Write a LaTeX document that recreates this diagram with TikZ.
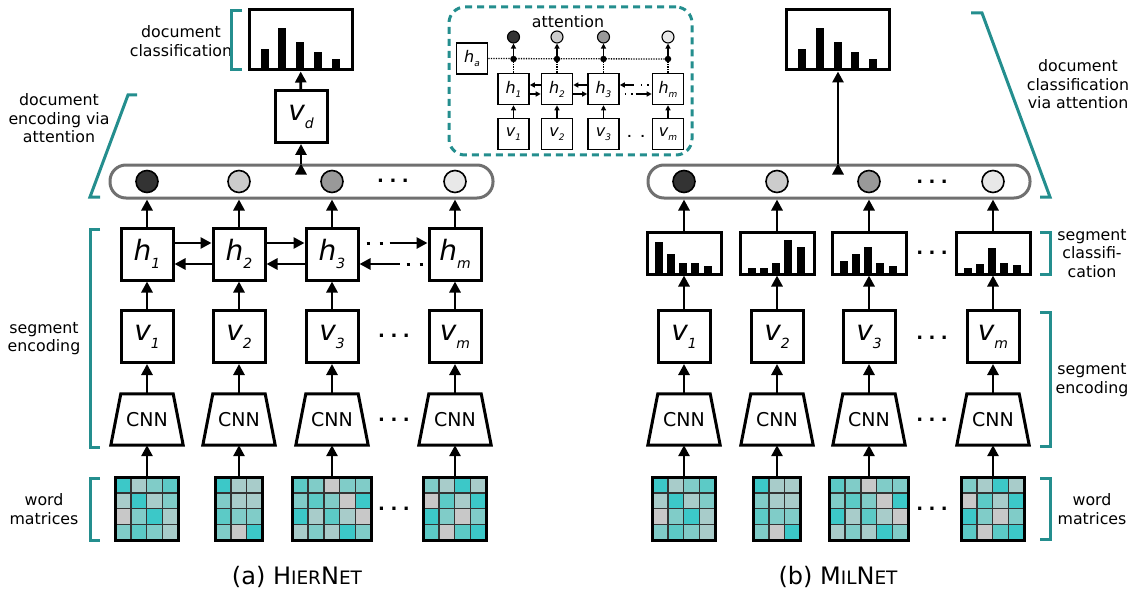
\documentclass[tikz,border=0pt]{standalone}
\usepackage{fontspec}
\setmainfont{DejaVu Sans}
\usetikzlibrary{arrows.meta,calc}

\definecolor{brteal}{RGB}{36,142,142}
\definecolor{mat1}{RGB}{60,200,200}
\definecolor{mat2}{RGB}{92,202,198}
\definecolor{mat3}{RGB}{128,204,200}
\definecolor{mat4}{RGB}{168,204,202}
\definecolor{mat5}{RGB}{200,200,200}
\definecolor{att1}{RGB}{51,51,51}
\definecolor{att2}{RGB}{204,204,204}
\definecolor{att3}{RGB}{153,153,153}
\definecolor{att4}{RGB}{232,232,232}

\newcommand{\bigsym}[2]{{\fontsize{28}{28}\selectfont\itshape #1}\raisebox{-8pt}{\fontsize{14}{14}\selectfont\itshape #2}}
\newcommand{\smallsym}[2]{{\fontsize{16}{16}\selectfont\itshape #1}\raisebox{-4pt}{\fontsize{9}{9}\selectfont\itshape #2}}
\newcommand{\ellip}{{\fontsize{18}{18}\selectfont\bfseries .\hspace{5.5pt}.\hspace{5.5pt}.}}

% word matrix: name, position, columns, cell colours row by row
\newcommand{\wordmat}[4]{%
  \node[inner sep=0pt, minimum width=#3*15.8pt, minimum height=63.2pt] (#1) at #2 {};
  \foreach \mc [count=\mk from 0] in {#4} {
    \pgfmathtruncatemacro{\mcol}{mod(\mk,#3)}
    \pgfmathtruncatemacro{\mrow}{\mk/#3}
    \filldraw[fill=mat\mc, draw=black!80, line width=1.3pt] ($(#1.north west)+(\mcol*15.8,\mrow*15.8)$) rectangle ++(15.8,15.8);
  }
  \draw[line width=3pt] (#1.north west) rectangle (#1.south east);
}
% bar chart: name, position, width, height, first bar, pitch, bar heights
\newcommand{\barchart}[7]{%
  \node[hist node, minimum width=#3pt, minimum height=#4pt] (#1) at #2 {};
  \foreach \bh [count=\bi from 0] in {#7}
    \fill ($(#1.south west)+(#5+\bi*#6,0)$) rectangle ++(8,-\bh);
}
% CNN block: name, position
\newcommand{\cnnblock}[2]{%
  \node[cnn node] (#1) at #2 {CNN};
  \draw[line width=3pt, line join=miter] (#1.south west) -- (#1.south east)
    -- ([xshift=-10pt]#1.north east) -- ([xshift=10pt]#1.north west) -- cycle;
}

\begin{document}
\begin{tikzpicture}[x=1pt, y=-1pt,
  box node/.style={draw, line width=3pt, minimum size=52pt, inner sep=0pt},
  small box/.style={draw, line width=1.6pt, minimum size=31pt, inner sep=0pt},
  cnn node/.style={minimum width=72pt, minimum height=51pt, inner sep=0pt, font=\fontsize{19}{22}\selectfont},
  hist node/.style={draw, line width=3pt, inner sep=0pt},
  att node/.style={circle, draw, line width=1.6pt, minimum size=22pt, inner sep=0pt},
  bar node/.style={draw=black!56, line width=3pt, rounded corners=16pt, minimum height=33pt, inner sep=0pt, fill=white},
  label node/.style={align=center, font=\fontsize{15.8}{18.5}\selectfont},
  bracket/.style={draw=brteal, line width=3pt},
  arr/.style={-{Triangle[length=11pt,width=11pt]}, line width=2.8pt},
  thin arr/.style={-{Triangle[length=5pt,width=5pt]}, line width=1.3pt},
  dot line/.style={line width=3pt, dash pattern=on 3pt off 10pt},
  small dots/.style={line width=1.4pt, dash pattern=on 1.5pt off 5pt},
  fine dots/.style={line width=1.3pt, dash pattern=on 1.2pt off 1.3pt}]
\useasboundingbox (0,0) rectangle (1135,591);

%%% (a) HierNet
\wordmat{mA1}{(147,509)}{4}{1,4,3,2,4,1,4,3,5,3,1,4,3,2,3,4}
\wordmat{mA2}{(239,509)}{3}{1,4,4,3,4,4,2,3,3,3,5,1}
\wordmat{mA3}{(332,509)}{5}{2,3,5,3,3,3,2,3,5,1,1,4,2,4,5,4,3,4,1,3}
\wordmat{mA4}{(455,509)}{4}{3,4,1,4,5,2,4,1,1,3,5,3,2,5,2,1}
\node (eA1) at (394,509) {\ellip};

\cnnblock{cA1}{(147,419.5)}
\cnnblock{cA2}{(239,419.5)}
\cnnblock{cA3}{(332,419.5)}
\cnnblock{cA4}{(455,419.5)}
\node (eA2) at (394,420) {\ellip};

\node[box node] (vA1) at (147,336.5) {\bigsym{v}{1}};
\node[box node] (vA2) at (239,336.5) {\bigsym{v}{2}};
\node[box node] (vA3) at (332,336.5) {\bigsym{v}{3}};
\node[box node] (vA4) at (455,336.5) {\bigsym{v}{m}};
\node (eA3) at (394,336) {\ellip};

\node[box node] (hA1) at (147,254) {\bigsym{h}{1}};
\node[box node] (hA2) at (239,254) {\bigsym{h}{2}};
\node[box node] (hA3) at (332,254) {\bigsym{h}{3}};
\node[box node] (hA4) at (455,254) {\bigsym{h}{m}};

\node[bar node, minimum width=383pt] (barA) at (301.5,181.5) {};
\node[att node, fill=att1] (aA1) at (147,181.5) {};
\node[att node, fill=att2] (aA2) at (239,181.5) {};
\node[att node, fill=att3] (aA3) at (332,181.5) {};
\node[att node, fill=att4] (aA4) at (455,181.5) {};
\node (eA4) at (393,181) {\ellip};

\node[box node] (vdA) at (301,116.5) {\bigsym{v}{d}};
\barchart{dA}{(300.5,40)}{103}{60}{13}{17.8}{22,43,29,19,12}

\begin{scope}
\foreach \i in {1,2,3,4} {
  \draw[arr] (mA\i) edge (cA\i);
  \draw[arr] (cA\i) edge (vA\i);
  \draw[arr] (vA\i) edge (hA\i);
  \draw[arr] (hA\i) edge (aA\i |- barA.south);
}
\draw[arr] ([yshift=11pt]hA1.east) -- ([yshift=11pt]hA2.west);
\draw[arr] ([yshift=-10pt]hA2.west) -- ([yshift=-10pt]hA1.east);
\draw[arr] ([yshift=11pt]hA2.east) -- ([yshift=11pt]hA3.west);
\draw[arr] ([yshift=-10pt]hA3.west) -- ([yshift=-10pt]hA2.east);
\draw[dot line] ([shift={(7pt,11pt)}]hA3.east) -- ([shift={(26pt,11pt)}]hA3.east);
\draw[arr] ([shift={(-38pt,11pt)}]hA4.west) -- ([yshift=11pt]hA4.west);
\draw[arr] ([shift={(40pt,-10pt)}]hA3.east) -- ([yshift=-10pt]hA3.east);
\draw[dot line] ([shift={(47pt,-10pt)}]hA3.east) -- ([shift={(-5pt,-10pt)}]hA4.west);
\draw[arr] (vdA |- barA.north) edge (vdA);
\draw[arr] (vdA) edge (dA);
\end{scope}

%%% (b) MilNet
\wordmat{mB1}{(684,509)}{4}{1,4,3,2,4,1,4,3,5,3,1,4,3,2,3,4}
\wordmat{mB2}{(777,509)}{3}{1,4,4,3,4,4,2,3,3,3,5,1}
\wordmat{mB3}{(869,509)}{5}{2,3,5,3,3,3,2,3,5,1,1,4,2,4,5,4,3,4,1,3}
\wordmat{mB4}{(993,509)}{4}{3,4,1,4,5,2,4,1,1,3,5,3,2,5,2,1}
\node (eB1) at (932,509) {\ellip};

\cnnblock{cB1}{(684,419.5)}
\cnnblock{cB2}{(777,419.5)}
\cnnblock{cB3}{(869,419.5)}
\cnnblock{cB4}{(993,419.5)}
\node (eB2) at (932,420) {\ellip};

\node[box node] (vB1) at (684,336.5) {\bigsym{v}{1}};
\node[box node] (vB2) at (777,336.5) {\bigsym{v}{2}};
\node[box node] (vB3) at (869,336.5) {\bigsym{v}{3}};
\node[box node] (vB4) at (993,336.5) {\bigsym{v}{m}};
\node (eB3) at (932,338) {\ellip};

\barchart{sB1}{(684,253)}{74}{42}{9}{12.3}{34,22,13,13,10}
\barchart{sB2}{(777,253)}{74}{42}{9}{12.3}{8,8,13,36,29}
\barchart{sB3}{(869,253)}{74}{42}{9}{12.3}{15,22,29,13,10}
\barchart{sB4}{(993,253)}{74}{42}{9}{12.3}{8,12,28,13,11}
\node (eB4) at (932,253) {\ellip};

\node[bar node, minimum width=382pt] (barB) at (839,181.5) {};
\node[att node, fill=att1] (aB1) at (684,181.5) {};
\node[att node, fill=att2] (aB2) at (777,181.5) {};
\node[att node, fill=att3] (aB3) at (869,181.5) {};
\node[att node, fill=att4] (aB4) at (993,181.5) {};
\node (eB5) at (932,182) {\ellip};

\barchart{dB}{(838,40)}{103}{60}{13}{17.8}{22,43,29,19,12}

\begin{scope}
\foreach \i in {1,2,3,4} {
  \draw[arr] (mB\i) edge (cB\i);
  \draw[arr] (cB\i) edge (vB\i);
  \draw[arr] (vB\i) edge (sB\i);
  \draw[arr] (sB\i) edge (aB\i |- barB.south);
}
\draw[arr] (dB |- barB.north) edge (dB);
\end{scope}

%%% attention inset
\node[draw=brteal, line width=3pt, dash pattern=on 7pt off 5pt, rounded corners=16pt, minimum width=243pt, minimum height=148pt] (inset) at (570.5,81) {};
\node[label node] (attlbl) at (568,22) {attention};
\node[small box] (ha) at (472,58.5) {\smallsym{h}{a}};
\node[small box] (hI1) at (513.5,89) {\smallsym{h}{1}};
\node[small box] (hI2) at (557,89) {\smallsym{h}{2}};
\node[small box] (hI3) at (603.5,89) {\smallsym{h}{3}};
\node[small box] (hI4) at (668,89) {\smallsym{h}{m}};
\node[small box] (vI1) at (513.5,134) {\smallsym{v}{1}};
\node[small box] (vI2) at (557,134) {\smallsym{v}{2}};
\node[small box] (vI3) at (603.5,134) {\smallsym{v}{3}};
\node[small box] (vI4) at (668,134) {\smallsym{v}{m}};
\node (eI) at (636,136) {{\fontsize{11}{11}\selectfont\bfseries .\hspace{9pt}.}};
\node[circle, fill, inner sep=0pt, minimum size=6.5pt] (pI1) at (513.5,59) {};
\node[circle, fill, inner sep=0pt, minimum size=6.5pt] (pI2) at (557,59) {};
\node[circle, fill, inner sep=0pt, minimum size=6.5pt] (pI3) at (603.5,59) {};
\node[circle, fill, inner sep=0pt, minimum size=6.5pt] (pI4) at (668,59) {};
\node[circle, draw, line width=1.1pt, minimum size=12pt, inner sep=0pt, fill=att1] (cI1) at (513.5,37) {};
\node[circle, draw, line width=1.1pt, minimum size=12pt, inner sep=0pt, fill=att2] (cI2) at (557,37) {};
\node[circle, draw, line width=1.1pt, minimum size=12pt, inner sep=0pt, fill=att3] (cI3) at (603.5,37) {};
\node[circle, draw, line width=1.1pt, minimum size=12pt, inner sep=0pt, fill=att4] (cI4) at (668,37) {};

\begin{scope}
\draw[fine dots] (ha) -- (pI4);
\foreach \i in {1,2,3,4} {
  \draw[thin arr] (vI\i) edge (hI\i);
  \draw[fine dots] (hI\i) -- (pI\i);
  \draw[thin arr] (pI\i) edge (cI\i);
}
\draw[thin arr] ([yshift=4pt]hI2.west) -- ([yshift=4pt]hI1.east);
\draw[thin arr] ([yshift=-5pt]hI1.east) -- ([yshift=-5pt]hI2.west);
\draw[thin arr] ([yshift=4pt]hI3.west) -- ([yshift=4pt]hI2.east);
\draw[thin arr] ([yshift=-5pt]hI2.east) -- ([yshift=-5pt]hI3.west);
\draw[thin arr] ([shift={(14pt,4pt)}]hI3.east) -- ([yshift=4pt]hI3.east);
\draw[small dots] ([shift={(21pt,4pt)}]hI3.east) -- ([shift={(-3pt,4pt)}]hI4.west);
\draw[small dots] ([shift={(5pt,-5pt)}]hI3.east) -- ([shift={(15pt,-5pt)}]hI3.east);
\draw[thin arr] ([shift={(-16pt,-5pt)}]hI4.west) -- ([yshift=-5pt]hI4.west);
\end{scope}

%%% labels and brackets
\node[label node] (lDocCls) at (181,41) {document\\classification};
\node[label node] (lDocEnc) at (59,118.5) {document\\encoding via\\attention};
\node[label node] (lSegA) at (44,338.5) {segment\\encoding};
\node[label node] (lWordA) at (44,509) {word\\matrices};
\node[label node] (lDocAtt) at (1078,84.5) {document\\classification\\via attention};
\node[label node] (lSegCls) at (1092,253.5) {segment\\classifi-\\cation};
\node[label node] (lSegB) at (1092,380) {segment\\encoding};
\node[label node] (lWordB) at (1092,509) {word\\matrices};

\draw[bracket] (242,11) -- (231,11) -- (231,70) -- (242,70);
\draw[bracket] (137,95) -- (128,95) -- (90,197) -- (100,197);
\draw[bracket] (100,229) -- (90,229) -- (90,447) -- (100,447);
\draw[bracket] (100,478) -- (90,478) -- (90,540) -- (100,540);
\draw[bracket] (971,13) -- (982,13) -- (1050,197) -- (1040,197);
\draw[bracket] (1040,232) -- (1050,232) -- (1050,274) -- (1040,274);
\draw[bracket] (1040,312) -- (1050,312) -- (1050,446) -- (1040,446);
\draw[bracket] (1040,478) -- (1050,478) -- (1050,539) -- (1040,539);

%%% captions
\node[font=\fontsize{24}{28}\selectfont] (capA) at (297,577) {(a) H{\fontsize{18.5}{22}\selectfont IER}N{\fontsize{18.5}{22}\selectfont ET}};
\node[font=\fontsize{24}{28}\selectfont] (capB) at (838,577) {(b) M{\fontsize{18.5}{22}\selectfont IL}N{\fontsize{18.5}{22}\selectfont ET}};
\end{tikzpicture}
\end{document}
